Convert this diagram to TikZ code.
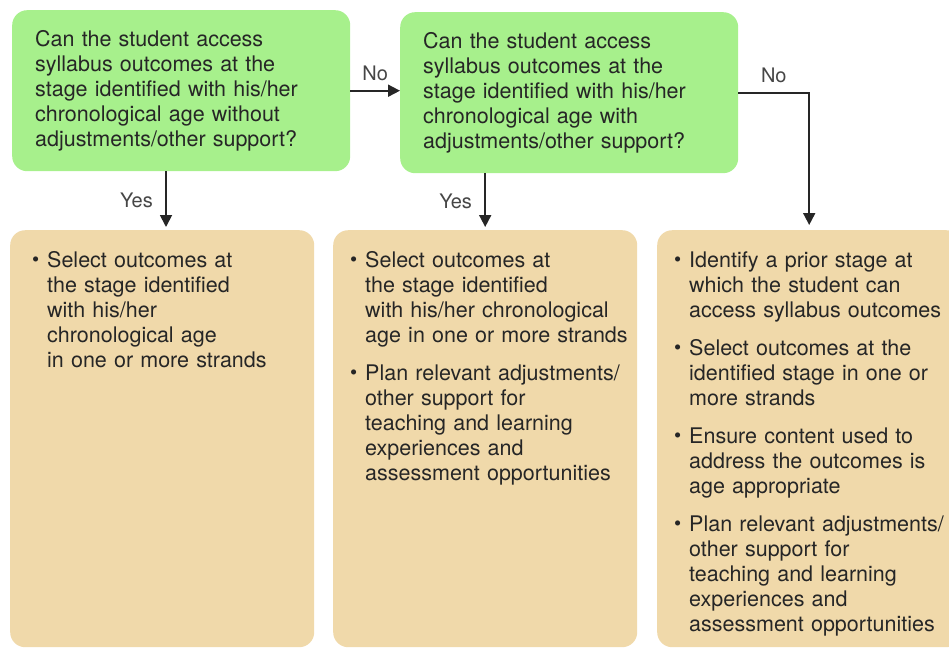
\documentclass[tikz,border=0pt]{standalone}
\usepackage{fontspec}
\setmainfont{TeX Gyre Heros}
\usepackage{enumitem}
\usetikzlibrary{arrows.meta,positioning}

\definecolor{qgreen}{RGB}{167,240,140}
\definecolor{sand}{RGB}{240,217,170}
\definecolor{ink}{RGB}{38,38,38}
\definecolor{labelgray}{RGB}{70,70,70}

\newenvironment{steps}{\begin{itemize}[label={\raisebox{.5pt}{\scalebox{.95}{\textbullet}}},leftmargin=17pt,labelsep=8pt,itemsep=13pt,parsep=0pt,topsep=0pt,partopsep=0pt]}{\end{itemize}}

\begin{document}
\begin{tikzpicture}[x=1pt,y=-1pt,
    question/.style={rounded corners=15pt,fill=qgreen,minimum width=338pt,minimum height=161pt,
      inner xsep=23pt,text width=292pt,align=left,text=ink,font=\fontsize{21.5}{25}\selectfont},
    answer/.style={rounded corners=15pt,fill=sand,minimum width=304pt,minimum height=417pt},
    answertext/.style={anchor=north west,inner sep=0pt,text width=290pt,text=ink,font=\fontsize{21.5}{25}\selectfont},
    arr/.style={line width=1.8pt,draw=ink,-{Triangle[length=12pt,width=12pt]}},
    branch/.style={text=labelgray,font=\fontsize{20}{22}\selectfont}]
  \useasboundingbox (0,0) rectangle (949,648);

  \node[question,anchor=north west] (q1) at (12,10)
    {Can the student access\\ syllabus outcomes at the\\ stage identified with his/her\\
     chronological age without\\ adjustments/other support?};
  \node[question,anchor=north west] (q2) at (400,12)
    {Can the student access\\ syllabus outcomes at the\\ stage identified with his/her\\
     chronological age with\\ adjustments/other support?};

  \node[answer,anchor=north west] (a1) at (10,230) {};
  \node[answer,anchor=north west] (a2) at (333,230) {};
  \node[answer,anchor=north west] (a3) at (657,230) {};

  \node[answertext] (t1) at (30,242) {\begin{steps}
    \item Select outcomes at\\ the stage identified\\ with his/her\\ chronological age\\ in one or more strands
  \end{steps}};
  \node[answertext] (t2) at (348,242) {\begin{steps}
    \item Select outcomes at\\ the stage identified\\ with his/her chronological\\ age in one or more strands
    \item Plan relevant adjustments/\\ other support for\\ teaching and learning\\ experiences and\\ assessment opportunities
  \end{steps}};
  \node[answertext] (t3) at (672,242) {\begin{steps}
    \item Identify a prior stage at\\ which the student can\\ access syllabus outcomes
    \item Select outcomes at the\\ identified stage in one or\\ more strands
    \item Ensure content used to\\ address the outcomes is\\ age appropriate
    \item Plan relevant adjustments/\\ other support for\\ teaching and learning\\ experiences and\\ assessment opportunities
  \end{steps}};

  \draw[arr] (q1.east) -- node[branch,above=6pt] {No} (q2.west |- q1.east);
  \draw[arr,shorten >=3pt] (q1.south -| 166,0) -- node[branch,left=9pt] {Yes} (a1.north -| 166,0);
  \draw[arr,shorten >=3pt] (q2.south -| a2.north) -- node[branch,left=9pt] {Yes} (a2.north);
  \draw[arr,shorten >=5pt] (q2.east) -- node[branch,above=6pt,pos=.5] {No} (q2.east -| a3.north) -- (a3.north);
\end{tikzpicture}
\end{document}
